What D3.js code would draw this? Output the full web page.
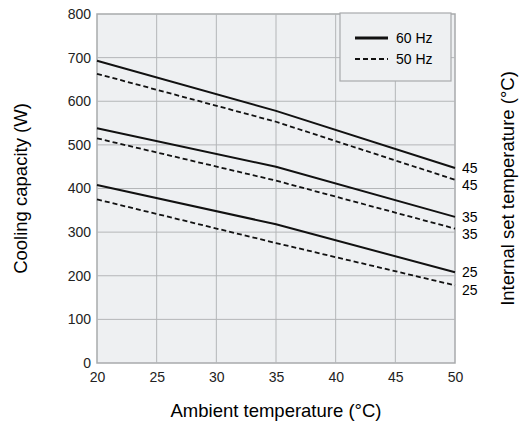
<!DOCTYPE html><html><head><meta charset="utf-8"><script src="https://cdn.jsdelivr.net/npm/d3@7"></script>
<style>body{margin:0;background:#fff}text{font-family:Arial,"Liberation Sans",sans-serif}</style></head><body><svg width="529" height="424"></svg><script>
const xTicks=[20,25,30,35,40,45,50];
const yTicks=[0,100,200,300,400,500,600,700,800];
const temps=["45","35","25"];
const hz60={"45":[693,578,447],"35":[538,450,335],"25":[408,318,208]};
const hz50={"45":[663,553,420],"35":[515,418,308],"25":[375,275,178]};
const xs=[20,35,50];
const svg=d3.select("svg");
const L=97,R=455,T=14,B=363;
const x=d3.scaleLinear().domain([20,50]).range([L,R]);
const y=d3.scaleLinear().domain([0,800]).range([B,T]);
svg.append("rect").attr("x",L).attr("y",T).attr("width",R-L).attr("height",B-T).attr("fill","#eef0f2").attr("stroke","#a8aaac").attr("stroke-width",1.5);
xTicks.slice(1,-1).forEach(t=>svg.append("line").attr("x1",x(t)).attr("x2",x(t)).attr("y1",T).attr("y2",B).attr("stroke","#b4b6b8"));
yTicks.slice(1,-1).forEach(t=>svg.append("line").attr("x1",L).attr("x2",R).attr("y1",y(t)).attr("y2",y(t)).attr("stroke","#b4b6b8"));
const ax=svg.append("g").attr("transform",`translate(0,${B})`).call(d3.axisBottom(x).tickValues(xTicks).tickSize(0).tickPadding(9));
ax.select(".domain").remove();ax.selectAll("text").attr("font-size",14).attr("fill","#222");
const ay=svg.append("g").attr("transform",`translate(${L},0)`).call(d3.axisLeft(y).tickValues(yTicks).tickSize(0).tickPadding(6));
ay.select(".domain").remove();ay.selectAll("text").attr("font-size",14).attr("fill","#222");
const line=d3.line().x((d,i)=>x(xs[i])).y(d=>y(d));
temps.forEach(t=>{
 svg.append("path").attr("d",line(hz60[t])).attr("fill","none").attr("stroke","#111").attr("stroke-width",2);
 svg.append("path").attr("d",line(hz50[t])).attr("fill","none").attr("stroke","#111").attr("stroke-width",1.8).attr("stroke-dasharray","5,3");
 svg.append("text").attr("x",462).attr("y",y(hz60[t][2])+5).attr("font-size",14).text(t);
 svg.append("text").attr("x",462).attr("y",y(hz50[t][2])+10).attr("font-size",14).text(t);
});
svg.append("rect").attr("x",340).attr("y",13).attr("width",111).attr("height",68).attr("fill","#eef0f2").attr("stroke","#a8aaac").attr("stroke-width",1.2);
svg.append("line").attr("x1",355).attr("x2",388).attr("y1",38).attr("y2",38).attr("stroke","#111").attr("stroke-width",3);
svg.append("line").attr("x1",355).attr("x2",388).attr("y1",59).attr("y2",59).attr("stroke","#111").attr("stroke-width",2).attr("stroke-dasharray","5,3");
svg.append("text").attr("x",396).attr("y",43).attr("font-size",14).text("60 Hz");
svg.append("text").attr("x",396).attr("y",64).attr("font-size",14).text("50 Hz");
svg.append("text").attr("x",(L+R)/2).attr("y",417).attr("text-anchor","middle").attr("font-size",18.5).text("Ambient temperature (°C)");
svg.append("text").attr("transform",`translate(27,${(T+B)/2}) rotate(-90)`).attr("text-anchor","middle").attr("font-size",18.5).text("Cooling capacity (W)");
svg.append("text").attr("transform",`translate(514,${(T+B)/2}) rotate(-90)`).attr("text-anchor","middle").attr("font-size",18.5).text("Internal set temperature (°C)");
</script></body></html>
